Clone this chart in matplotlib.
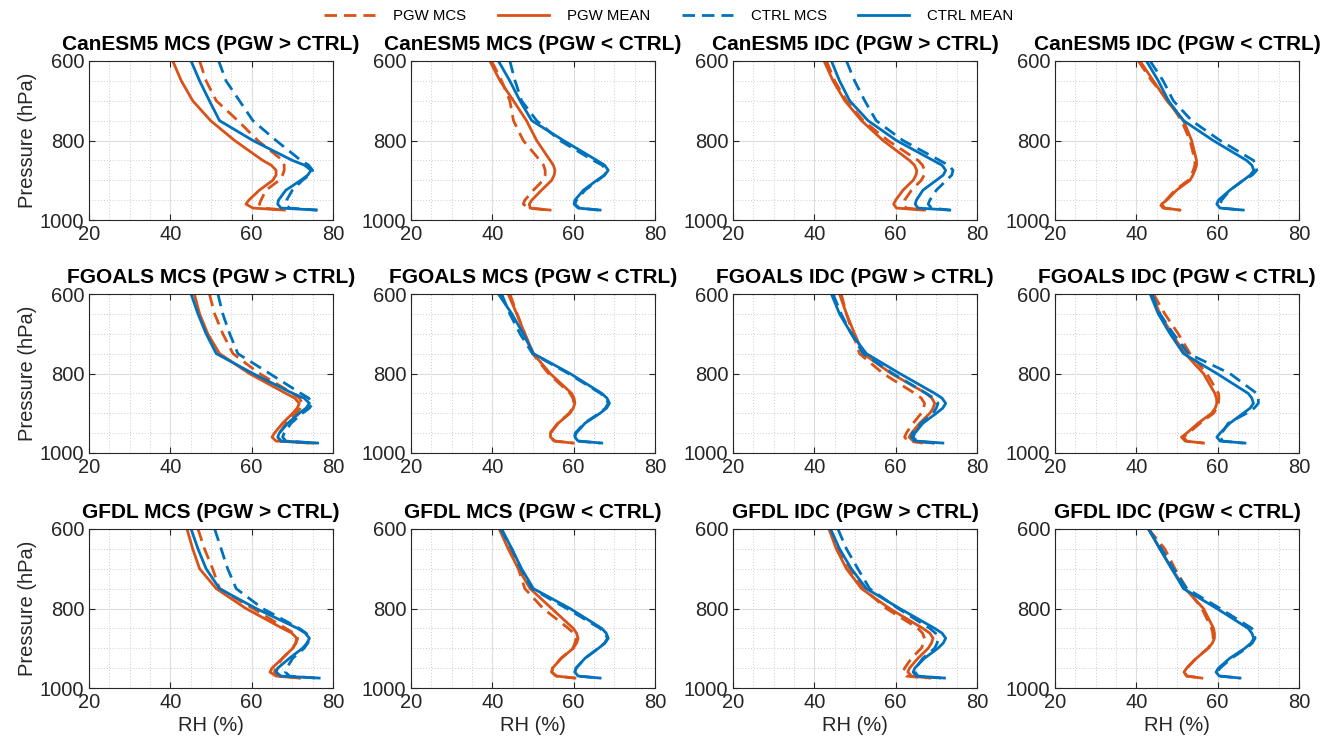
import matplotlib
matplotlib.use("Agg")
import matplotlib.pyplot as plt
from matplotlib.ticker import MultipleLocator
from matplotlib.lines import Line2D

# Pressure levels (hPa)
levels = [600, 650, 700, 750, 800, 850, 862, 875, 887, 900, 925, 950, 960, 970, 975]

# ---- CanESM5 MCS (PGW > CTRL)
can_mcs_gt_pgw_mcs   = [47.2, 48.8, 51.3, 56.6, 61.5, 67.6, 68.0, 68.0, 67.6, 66.8, 63.5, 62.3, 61.9, 62.7, 68.4]
can_mcs_gt_pgw_mean  = [40.6, 42.7, 45.5, 49.9, 55.8, 62.7, 64.8, 66.0, 66.0, 65.2, 61.9, 59.3, 58.6, 60.3, 68.0]
can_mcs_gt_ctrl_mcs  = [51.9, 53.7, 57.0, 60.3, 66.0, 72.1, 74.0, 75.0, 74.2, 72.5, 70.0, 68.6, 68.3, 69.3, 76.2]
can_mcs_gt_ctrl_mean = [45.1, 47.2, 49.6, 52.1, 60.3, 70.0, 73.0, 74.6, 73.8, 72.1, 68.4, 66.6, 66.4, 67.2, 75.8]
# ---- CanESM5 MCS (PGW < CTRL)
can_mcs_lt_pgw_mcs   = [39.8, 42.3, 44.3, 45.2, 47.6, 51.7, 52.6, 53.0, 53.0, 52.5, 50.1, 48.0, 47.6, 48.9, 53.8]
can_mcs_lt_pgw_mean  = [39.4, 41.9, 45.2, 48.4, 50.9, 54.2, 55.0, 55.4, 55.2, 54.6, 52.1, 49.7, 49.1, 49.3, 54.2]
can_mcs_lt_ctrl_mcs  = [44.3, 45.6, 47.2, 50.9, 56.6, 64.8, 67.0, 68.1, 67.6, 66.0, 62.8, 60.7, 60.3, 61.4, 66.1]
can_mcs_lt_ctrl_mean = [41.5, 44.3, 46.8, 49.7, 57.5, 65.7, 67.6, 68.5, 67.6, 65.7, 62.4, 60.3, 60.1, 61.1, 66.5]
# ---- CanESM5 IDC (PGW > CTRL)
can_idc_gt_pgw_mcs   = [43.0, 45.0, 47.9, 52.0, 58.1, 65.5, 66.6, 67.1, 67.0, 66.3, 63.9, 62.2, 61.8, 62.6, 67.5]
can_idc_gt_pgw_mean  = [42.4, 44.6, 47.5, 51.6, 56.9, 63.4, 64.6, 65.2, 65.0, 64.3, 61.8, 60.0, 59.5, 60.2, 66.7]
can_idc_gt_ctrl_mcs  = [47.9, 49.9, 52.4, 55.2, 61.8, 70.8, 73.0, 74.1, 73.8, 72.5, 70.0, 68.4, 68.0, 68.8, 73.3]
can_idc_gt_ctrl_mean = [44.2, 46.2, 48.7, 53.2, 60.2, 69.2, 71.4, 72.3, 71.7, 70.0, 66.7, 65.1, 64.8, 65.5, 73.3]
# ---- CanESM5 IDC (PGW < CTRL)
can_idc_lt_pgw_mcs   = [40.5, 43.8, 47.9, 51.1, 53.2, 54.4, 54.4, 54.0, 53.5, 52.8, 49.5, 47.3, 45.8, 46.6, 50.7]
can_idc_lt_pgw_mean  = [40.9, 44.2, 47.5, 51.6, 53.6, 54.8, 54.8, 54.4, 53.9, 53.2, 49.9, 47.5, 46.2, 47.0, 50.7]
can_idc_lt_ctrl_mcs  = [43.4, 46.6, 49.1, 53.6, 60.6, 68.8, 69.5, 69.6, 68.5, 66.3, 63.0, 61.0, 60.6, 61.0, 65.9]
can_idc_lt_ctrl_mean = [42.5, 45.4, 47.9, 51.6, 58.9, 67.1, 68.4, 68.9, 68.0, 66.3, 63.0, 60.2, 59.8, 60.6, 66.3]
# ---- FGOALS MCS (PGW > CTRL)
fg_mcs_gt_pgw_mcs    = [49.6, 50.9, 52.9, 55.4, 61.9, 70.1, 71.7, 72.5, 72.0, 70.9, 68.4, 66.8, 66.4, 67.2, 74.2]
fg_mcs_gt_pgw_mean   = [45.9, 47.2, 49.2, 52.1, 59.4, 68.4, 70.6, 71.7, 71.2, 70.1, 67.6, 65.6, 65.0, 66.0, 75.0]
fg_mcs_gt_ctrl_mcs   = [51.7, 52.9, 54.6, 56.6, 64.4, 72.1, 74.0, 75.0, 74.2, 72.5, 69.7, 68.0, 67.6, 68.4, 75.8]
fg_mcs_gt_ctrl_mean  = [45.1, 46.8, 48.8, 51.3, 60.3, 70.1, 72.9, 74.2, 73.4, 71.7, 68.9, 66.8, 66.4, 67.2, 76.2]
# ---- FGOALS MCS (PGW < CTRL)
fg_mcs_lt_pgw_mcs    = [44.3, 46.1, 48.0, 49.9, 53.8, 59.1, 59.8, 60.1, 59.7, 58.9, 56.1, 54.2, 54.2, 55.2, 59.8]
fg_mcs_lt_pgw_mean   = [43.9, 46.0, 48.0, 50.1, 54.2, 59.5, 60.1, 60.3, 59.9, 59.1, 56.2, 54.3, 54.3, 55.4, 59.9]
fg_mcs_lt_ctrl_mcs   = [42.3, 44.3, 46.8, 49.9, 58.7, 66.6, 67.9, 68.5, 67.8, 66.3, 62.6, 60.4, 60.2, 61.0, 66.6]
fg_mcs_lt_ctrl_mean  = [41.5, 44.8, 47.6, 50.1, 59.1, 66.9, 68.2, 68.8, 68.1, 66.5, 62.8, 60.6, 60.3, 61.1, 66.9]
# ---- FGOALS IDC (PGW > CTRL)
fg_idc_gt_pgw_mcs    = [46.6, 47.9, 49.5, 51.1, 56.9, 64.7, 66.3, 67.1, 66.9, 66.3, 64.3, 62.6, 62.2, 63.0, 66.7]
fg_idc_gt_pgw_mean   = [46.2, 47.9, 49.9, 52.0, 58.9, 67.5, 68.9, 69.6, 69.2, 68.4, 65.9, 63.9, 63.3, 64.3, 69.2]
fg_idc_gt_ctrl_mcs   = [44.6, 46.6, 49.1, 52.0, 59.3, 67.5, 69.4, 70.4, 70.0, 69.2, 66.3, 64.1, 63.9, 64.7, 70.0]
fg_idc_gt_ctrl_mean  = [44.2, 46.2, 49.1, 52.8, 61.0, 69.6, 71.4, 72.3, 71.6, 70.0, 66.7, 64.7, 64.3, 65.1, 71.6]
# ---- FGOALS IDC (PGW < CTRL)
fg_idc_lt_pgw_mcs    = [44.2, 47.0, 50.3, 53.2, 57.3, 60.2, 60.3, 60.2, 59.8, 59.0, 55.7, 52.8, 51.6, 52.4, 56.5]
fg_idc_lt_pgw_mean   = [43.8, 45.8, 48.7, 52.0, 56.5, 59.3, 59.7, 59.8, 59.4, 58.5, 55.2, 52.4, 51.1, 52.0, 56.5]
fg_idc_lt_ctrl_mcs   = [43.8, 45.8, 49.1, 52.8, 63.0, 69.6, 70.0, 70.0, 69.0, 67.1, 62.6, 61.0, 60.6, 61.2, 66.3]
fg_idc_lt_ctrl_mean  = [43.4, 45.4, 48.3, 51.6, 59.8, 67.5, 68.4, 68.8, 68.0, 66.3, 63.0, 60.6, 59.8, 60.6, 66.7]
# ---- GFDL MCS (PGW > CTRL)
gf_mcs_gt_pgw_mcs    = [46.8, 48.4, 50.4, 52.1, 60.3, 68.4, 70.3, 71.3, 70.9, 70.1, 67.6, 65.8, 65.6, 66.8, 72.5]
gf_mcs_gt_pgw_mean   = [44.1, 45.5, 47.2, 51.3, 58.6, 67.6, 69.9, 71.1, 70.8, 70.1, 67.6, 65.0, 64.5, 66.0, 71.7]
gf_mcs_gt_ctrl_mcs   = [50.9, 52.5, 54.1, 56.2, 62.7, 71.7, 73.4, 74.2, 73.8, 72.9, 70.1, 68.6, 68.3, 69.3, 75.8]
gf_mcs_gt_ctrl_mean  = [45.1, 46.8, 48.8, 52.1, 61.1, 71.3, 73.2, 74.2, 73.6, 72.5, 69.3, 66.4, 66.0, 67.2, 76.6]
# ---- GFDL MCS (PGW < CTRL)
gf_mcs_lt_pgw_mcs    = [41.9, 44.3, 46.4, 48.0, 52.5, 58.7, 60.0, 60.6, 60.3, 59.8, 56.9, 54.8, 54.6, 55.7, 60.3]
gf_mcs_lt_pgw_mean   = [41.7, 43.9, 46.4, 49.3, 54.6, 59.9, 60.7, 61.1, 60.7, 59.9, 57.0, 54.8, 54.6, 55.8, 60.3]
gf_mcs_lt_ctrl_mcs   = [42.0, 44.8, 47.0, 49.7, 58.3, 66.5, 67.7, 68.3, 67.6, 66.1, 62.8, 60.6, 60.3, 61.1, 66.3]
gf_mcs_lt_ctrl_mean  = [42.3, 44.8, 47.2, 50.1, 59.1, 66.9, 68.0, 68.5, 67.7, 66.1, 62.8, 60.6, 60.3, 61.1, 66.5]
# ---- GFDL IDC (PGW > CTRL)
gf_idc_gt_pgw_mcs    = [43.8, 45.8, 48.7, 52.0, 57.7, 65.5, 66.6, 67.1, 66.9, 66.3, 63.9, 62.2, 61.8, 62.6, 67.5]
gf_idc_gt_pgw_mean   = [43.6, 45.4, 47.9, 51.6, 58.5, 66.7, 68.4, 69.2, 68.8, 68.0, 65.5, 63.4, 63.0, 63.9, 68.4]
gf_idc_gt_ctrl_mcs   = [45.8, 47.9, 50.7, 53.6, 60.6, 68.4, 69.8, 70.4, 70.2, 69.6, 66.7, 64.9, 64.7, 65.5, 71.2]
gf_idc_gt_ctrl_mean  = [44.0, 46.2, 49.1, 52.8, 61.0, 69.6, 71.4, 72.3, 71.7, 70.4, 67.1, 64.7, 64.3, 65.1, 72.0]
# ---- GFDL IDC (PGW < CTRL)
gf_idc_lt_pgw_mcs    = [43.0, 47.0, 49.5, 52.4, 56.1, 58.5, 58.8, 58.9, 58.5, 57.6, 54.7, 52.4, 51.8, 52.4, 56.1]
gf_idc_lt_pgw_mean   = [43.0, 45.8, 48.7, 52.0, 56.5, 59.0, 59.2, 59.2, 58.7, 57.7, 54.8, 52.4, 51.7, 52.4, 56.1]
gf_idc_lt_ctrl_mcs   = [43.0, 46.2, 49.1, 52.4, 60.6, 68.4, 69.0, 69.2, 68.5, 67.1, 63.4, 60.6, 59.9, 60.6, 65.5]
gf_idc_lt_ctrl_mean  = [43.0, 45.8, 48.7, 51.6, 59.8, 67.5, 68.4, 68.9, 68.2, 66.7, 63.0, 60.2, 59.6, 60.4, 65.5]

titles = [
    "CanESM5 MCS (PGW > CTRL)", "CanESM5 MCS (PGW < CTRL)", "CanESM5 IDC (PGW > CTRL)", "CanESM5 IDC (PGW < CTRL)",
    "FGOALS MCS (PGW > CTRL)", "FGOALS MCS (PGW < CTRL)", "FGOALS IDC (PGW > CTRL)", "FGOALS IDC (PGW < CTRL)",
    "GFDL MCS (PGW > CTRL)", "GFDL MCS (PGW < CTRL)", "GFDL IDC (PGW > CTRL)", "GFDL IDC (PGW < CTRL)",
]
series_labels = ["PGW MCS", "PGW MEAN", "CTRL MCS", "CTRL MEAN"]
x_ticks = [20, 40, 60, 80]
y_ticks = [600, 800, 1000]

panels = [
    (can_mcs_gt_pgw_mcs, can_mcs_gt_pgw_mean, can_mcs_gt_ctrl_mcs, can_mcs_gt_ctrl_mean),
    (can_mcs_lt_pgw_mcs, can_mcs_lt_pgw_mean, can_mcs_lt_ctrl_mcs, can_mcs_lt_ctrl_mean),
    (can_idc_gt_pgw_mcs, can_idc_gt_pgw_mean, can_idc_gt_ctrl_mcs, can_idc_gt_ctrl_mean),
    (can_idc_lt_pgw_mcs, can_idc_lt_pgw_mean, can_idc_lt_ctrl_mcs, can_idc_lt_ctrl_mean),
    (fg_mcs_gt_pgw_mcs, fg_mcs_gt_pgw_mean, fg_mcs_gt_ctrl_mcs, fg_mcs_gt_ctrl_mean),
    (fg_mcs_lt_pgw_mcs, fg_mcs_lt_pgw_mean, fg_mcs_lt_ctrl_mcs, fg_mcs_lt_ctrl_mean),
    (fg_idc_gt_pgw_mcs, fg_idc_gt_pgw_mean, fg_idc_gt_ctrl_mcs, fg_idc_gt_ctrl_mean),
    (fg_idc_lt_pgw_mcs, fg_idc_lt_pgw_mean, fg_idc_lt_ctrl_mcs, fg_idc_lt_ctrl_mean),
    (gf_mcs_gt_pgw_mcs, gf_mcs_gt_pgw_mean, gf_mcs_gt_ctrl_mcs, gf_mcs_gt_ctrl_mean),
    (gf_mcs_lt_pgw_mcs, gf_mcs_lt_pgw_mean, gf_mcs_lt_ctrl_mcs, gf_mcs_lt_ctrl_mean),
    (gf_idc_gt_pgw_mcs, gf_idc_gt_pgw_mean, gf_idc_gt_ctrl_mcs, gf_idc_gt_ctrl_mean),
    (gf_idc_lt_pgw_mcs, gf_idc_lt_pgw_mean, gf_idc_lt_ctrl_mcs, gf_idc_lt_ctrl_mean),
]

ORANGE = "#D95319"
BLUE = "#0072BD"
styles = [
    dict(color=ORANGE, linestyle=(0, (4.5, 2.5))),
    dict(color=ORANGE, linestyle="-"),
    dict(color=BLUE, linestyle=(0, (4.5, 2.5))),
    dict(color=BLUE, linestyle="-"),
]

plt.rcParams["font.family"] = ["Liberation Sans", "DejaVu Sans"]

W, H = 1338, 746
fig = plt.figure(figsize=(W / 100, H / 100), dpi=100)

lefts = [89, 411, 733, 1055]
tops = [61, 294, 529]
aw, ah = 244, 159

for i, data in enumerate(panels):
    r, c = divmod(i, 4)
    ax = fig.add_axes([lefts[c] / W, 1 - (tops[r] + ah) / H, aw / W, ah / H])
    for vals, st in zip(data, styles):
        ax.plot(vals, levels, lw=2.0, solid_joinstyle="round", **st)
    ax.set_xlim(20, 80)
    ax.set_ylim(1000, 600)
    ax.set_xticks(x_ticks)
    ax.set_yticks(y_ticks)
    ax.xaxis.set_minor_locator(MultipleLocator(5))
    ax.yaxis.set_minor_locator(MultipleLocator(50))
    ax.grid(which="major", color="#dddddd", lw=0.8, linestyle="-")
    ax.grid(which="minor", color="#cccccc", lw=0.7, linestyle=(0, (1, 2)))
    ax.set_axisbelow(True)
    ax.tick_params(which="both", direction="in", top=True, right=True,
                   labelsize=14.5, colors="#262626", length=4)
    ax.tick_params(which="minor", length=0)
    for sp in ax.spines.values():
        sp.set_color("#262626")
        sp.set_linewidth(0.8)
    ax.set_title(titles[i], fontsize=15.0, fontweight="bold", pad=8, color="black")
    if c == 0:
        ax.set_ylabel("Pressure (hPa)", fontsize=14.5, color="#262626", labelpad=2)
    if r == 2:
        ax.set_xlabel("RH (%)", fontsize=14.5, color="#262626", labelpad=3)

handles = [Line2D([], [], lw=2.0, **st) for st in styles]
fig.legend(handles, series_labels, loc="center", bbox_to_anchor=(0.5, 1 - 16 / H),
           ncol=4, frameon=False, fontsize=10.8, handlelength=3.4, columnspacing=2.1,
           handletextpad=1.2)

fig.savefig("out.png", dpi=100)
